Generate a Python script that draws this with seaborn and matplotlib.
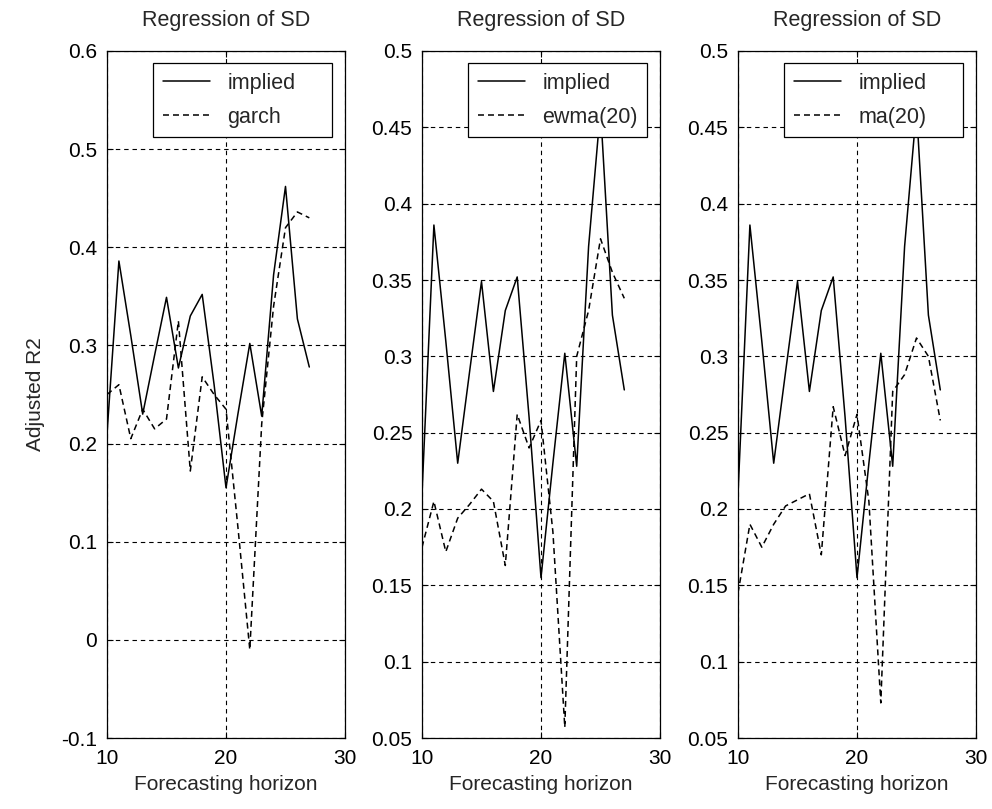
import matplotlib

matplotlib.use("Agg")
import matplotlib.pyplot as plt
import numpy as np
import pandas as pd
import seaborn as sns
from matplotlib.ticker import FuncFormatter

# forecasting horizons and adjusted R2
horizon = list(range(10, 28))
implied = [0.21, 0.386, 0.31, 0.23, 0.29, 0.349, 0.277, 0.33, 0.352,
           0.26, 0.155, 0.23, 0.302, 0.228, 0.372, 0.462, 0.327, 0.278]
garch = [0.25, 0.26, 0.205, 0.235, 0.215, 0.225, 0.325, 0.172, 0.268,
         0.25, 0.235, 0.115, -0.01, 0.22, 0.34, 0.42, 0.436, 0.43]
ewma20 = [0.175, 0.205, 0.172, 0.194, 0.203, 0.213, 0.205, 0.163, 0.262,
          0.24, 0.258, 0.185, 0.057, 0.30, 0.33, 0.377, 0.355, 0.338]
ma20 = [0.145, 0.19, 0.175, 0.19, 0.202, 0.206, 0.21, 0.17, 0.267,
        0.235, 0.262, 0.205, 0.073, 0.277, 0.288, 0.312, 0.30, 0.258]

panels = [
    ("garch", garch, (-0.1, 0.6), 0.1),
    ("ewma(20)", ewma20, (0.05, 0.5), 0.05),
    ("ma(20)", ma20, (0.05, 0.5), 0.05),
]

sns.set_theme(style="ticks")
plt.rcParams["font.family"] = ["Liberation Sans", "DejaVu Sans"]
plt.rcParams["lines.scale_dashes"] = False
plt.rcParams["axes.edgecolor"] = "black"
plt.rcParams["axes.linewidth"] = 0.9
for side in ("x", "y"):
    plt.rcParams[f"{side}tick.direction"] = "in"
    plt.rcParams[f"{side}tick.color"] = "black"
    plt.rcParams[f"{side}tick.major.size"] = 4
    plt.rcParams[f"{side}tick.major.width"] = 0.8
    plt.rcParams[f"{side}tick.labelsize"] = 15
plt.rcParams["xtick.major.pad"] = 8
plt.rcParams["ytick.major.pad"] = 7

fig = plt.figure(figsize=(9.92, 8.09), dpi=100)
lefts = [107 / 992, 422 / 992, 738 / 992]
width = 238 / 992
bottom = 1 - 738 / 809
height = (738 - 51) / 809

# legend box in axes fractions (MATLAB-style fixed size)
leg_box = (46 / 238, 1 - 86 / 687, 179 / 238, 74 / 687)

for left, (name, values, ylim, step) in zip(lefts, panels):
    ax = fig.add_axes([left, bottom, width, height])
    frame = pd.DataFrame({
        "horizon": horizon * 2,
        "r2": implied + values,
        "series": ["implied"] * len(horizon) + [name] * len(horizon),
    })
    sns.lineplot(
        data=frame, x="horizon", y="r2", style="series",
        dashes={"implied": "", name: (4.3, 2.9)},
        color="black", linewidth=1.1, errorbar=None, ax=ax,
    )
    ax.set_xlim(10, 30)
    ax.set_ylim(*ylim)
    ax.set_xticks([10, 20, 30])
    ax.set_yticks(np.arange(ylim[0], ylim[1] + step / 2, step))
    ax.yaxis.set_major_formatter(FuncFormatter(lambda v, _: f"{round(v, 3):g}"))
    ax.tick_params(top=True, right=True)
    ax.grid(True, color="black", linestyle=(0, (3.2, 2.8)), linewidth=0.8)
    ax.set_title("Regression of SD", fontsize=15.5, pad=18)
    ax.set_xlabel("Forecasting horizon", fontsize=15, labelpad=5)
    ax.set_ylabel("")

    handles, labels = ax.get_legend_handles_labels()
    leg = ax.legend(
        handles, labels, loc="upper left", mode="expand",
        bbox_to_anchor=leg_box, borderaxespad=0,
        fontsize=15.5, frameon=True, fancybox=False, framealpha=1,
        edgecolor="black", handlelength=2.2, handletextpad=0.8,
        borderpad=0.45, labelspacing=0.6,
    )
    leg.get_frame().set_linewidth(0.9)

fig.axes[0].set_ylabel("Adjusted R2", fontsize=15, labelpad=12)

fig.savefig("out.png", dpi=100, facecolor="white")
